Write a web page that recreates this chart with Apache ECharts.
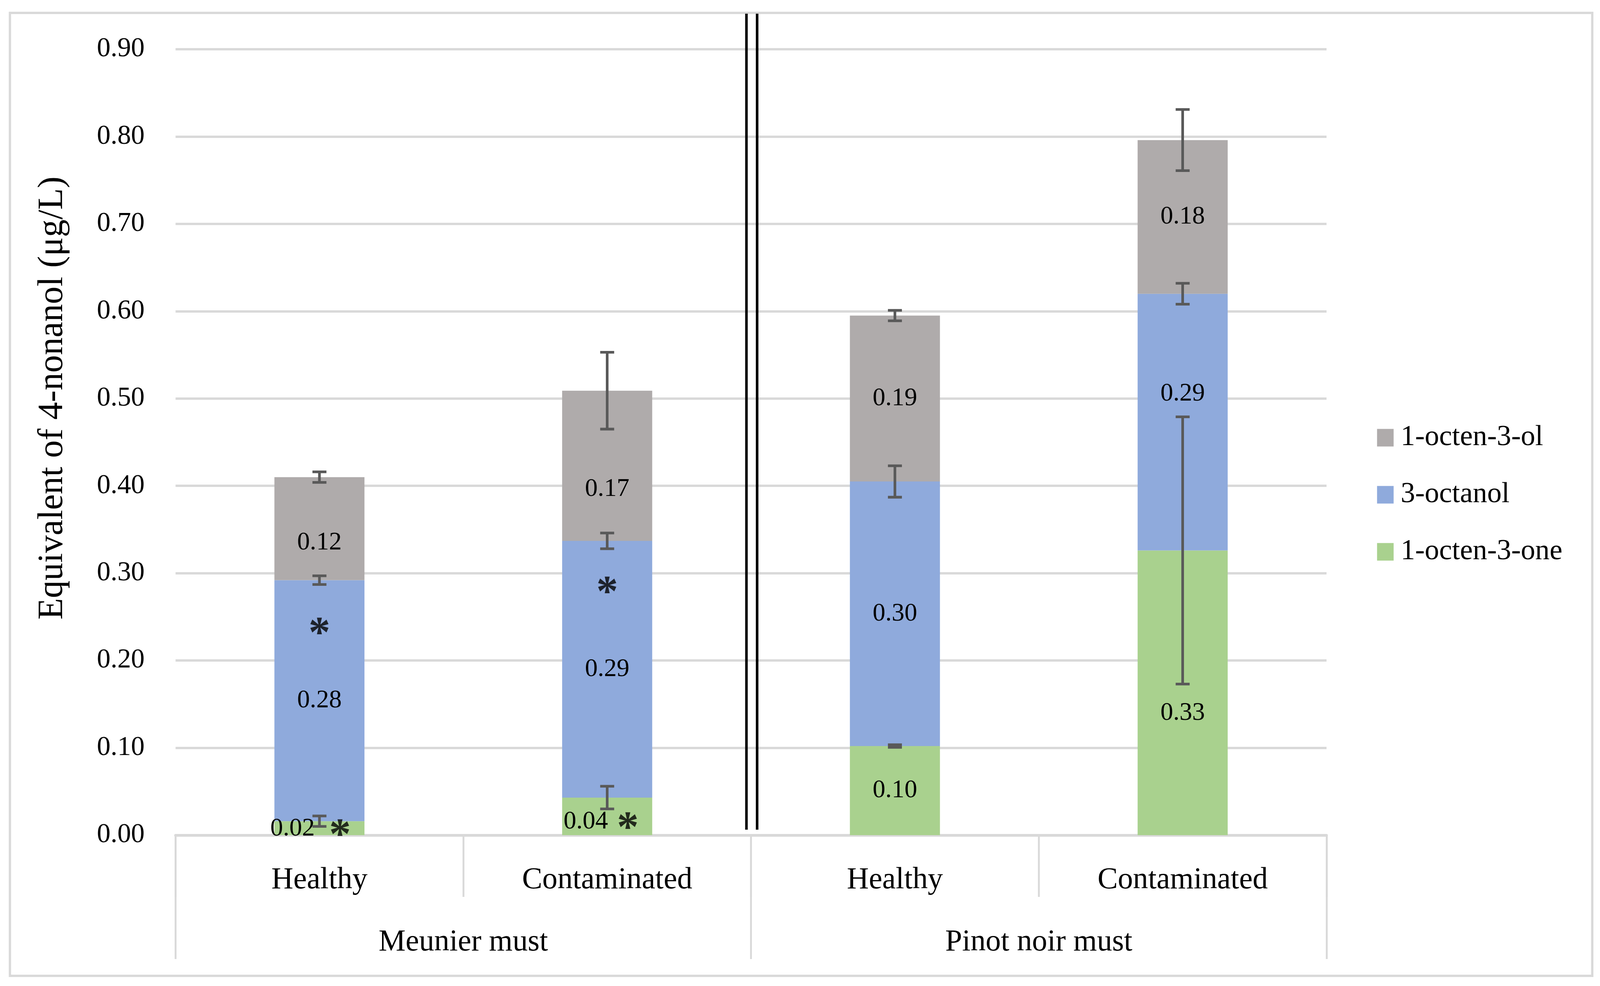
<!DOCTYPE html>
<html>
<head>
<meta charset="utf-8">
<script src="https://cdn.jsdelivr.net/npm/echarts@6/dist/echarts.min.js"></script>
<style>
html,body{margin:0;padding:0;background:#fff;overflow:hidden;}
#chart{width:100vw;height:100vh;}
</style>
</head>
<body>
<div id="chart"></div>
<script>
// ---- data ----
const categories = ['Healthy', 'Contaminated', 'Healthy', 'Contaminated'];
const groups = ['Meunier must', 'Pinot noir must'];
const seriesNames = ['1-octen-3-one', '3-octanol', '1-octen-3-ol'];
const octenone = [0.016, 0.043, 0.102, 0.326];
const octanol = [0.276, 0.294, 0.303, 0.294];
const octenol = [0.118, 0.172, 0.190, 0.176];
const octenoneErr = [0.006, 0.013, 0.0015, 0.153];
const octanolErr = [0.005, 0.009, 0.018, 0.012];
const octenolErr = [0.006, 0.044, 0.006, 0.035];
const yMin = 0, yMax = 0.9, yStep = 0.1;
const asterisks = [[0, 0.238], [1, 0.285], [0, 0.007], [1, 0.015]];

// ---- layout (reference is 4347 x 2523; scaled to the actual viewport) ----
const REF_W = 4347, REF_H = 2523;
const W = window.innerWidth || REF_W, H = window.innerHeight || REF_H;
const sx = W / REF_W, sy = H / REF_H, fs = (sx + sy) / 2;
const X = v => v * sx, Y = v => v * sy, F = v => v * fs;

// ---- styles ----
const colors = { '1-octen-3-one': '#A9D18E', '3-octanol': '#8FAADC', '1-octen-3-ol': '#AFABAB' };
const FONT = '"Palatino Linotype","Book Antiqua",Palatino,"Liberation Serif",serif';
const labelOffsets = {
  '1-octen-3-one': [[-73, 2], [-58, 14], [0, 0], [0, 52]],
  '3-octanol': [[0, 0], [0, 0], [0, 0], [0, -72]],
  '1-octen-3-ol': [[0, 36], [0, 60], [0, 0], [0, 0]]
};
const asteriskDx = [0, 0, 56, 56];

const values = { '1-octen-3-one': octenone, '3-octanol': octanol, '1-octen-3-ol': octenol };
const errors = { '1-octen-3-one': octenoneErr, '3-octanol': octanolErr, '1-octen-3-ol': octenolErr };

const chart = echarts.init(document.getElementById('chart'), null, { renderer: 'canvas', width: W, height: H });

const series = [];
const cum = categories.map(() => 0);
const errData = [];
seriesNames.forEach(name => {
  const vals = values[name];
  series.push({
    name: name,
    type: 'bar',
    stack: 'total',
    barWidth: '31.3%',
    itemStyle: { color: colors[name] },
    label: {
      show: true,
      position: 'inside',
      fontFamily: FONT,
      fontSize: F(67),
      color: '#000',
      formatter: p => (Math.round(p.value * 100) / 100).toFixed(2)
    },
    emphasis: { disabled: true },
    data: vals.map((v, i) => ({ value: v, label: { offset: [X(labelOffsets[name][i][0]), Y(labelOffsets[name][i][1])] } }))
  });
  vals.forEach((v, i) => {
    cum[i] += v;
    errData.push([i, cum[i], errors[name][i]]);
  });
});

series.push({
  type: 'custom',
  name: 'errorbars',
  z: 5,
  silent: true,
  renderItem: function (params, api) {
    const x = api.value(0), y = api.value(1), e = api.value(2);
    const top = api.coord([x, y + e]);
    const bot = api.coord([x, y - e]);
    const hw = X(19);
    const style = { stroke: '#595959', lineWidth: F(7) };
    return {
      type: 'group',
      children: [
        { type: 'line', shape: { x1: top[0], y1: top[1], x2: bot[0], y2: bot[1] }, style: style },
        { type: 'line', shape: { x1: top[0] - hw, y1: top[1], x2: top[0] + hw, y2: top[1] }, style: style },
        { type: 'line', shape: { x1: bot[0] - hw, y1: bot[1], x2: bot[0] + hw, y2: bot[1] }, style: style }
      ]
    };
  },
  encode: { x: 0, y: 1 },
  data: errData
});

series.push({
  type: 'scatter',
  name: 'significance',
  z: 6,
  silent: true,
  symbolSize: 1,
  itemStyle: { color: 'rgba(0,0,0,0)' },
  label: {
    show: true,
    position: 'inside',
    formatter: '*',
    fontFamily: FONT,
    fontSize: F(115),
    fontWeight: 'bold',
    color: '#000'
  },
  data: asterisks.map((a, i) => ({ value: a, label: { offset: [X(asteriskDx[i]), Y(21)] } }))
});

const option = {
  backgroundColor: '#fff',
  animation: false,
  textStyle: { fontFamily: FONT },
  grid: { left: X(477), right: X(743), top: Y(126), bottom: Y(386), containLabel: false },
  legend: {
    orient: 'vertical',
    left: X(3736),
    top: Y(1078),
    data: ['1-octen-3-ol', '3-octanol', '1-octen-3-one'],
    icon: 'rect',
    itemWidth: X(45),
    itemHeight: Y(45),
    itemGap: Y(72),
    textStyle: { fontFamily: FONT, fontSize: F(76), color: '#000', padding: [0, 0, 0, X(14)] },
    selectedMode: false
  },
  xAxis: [
    {
      type: 'category',
      data: categories,
      boundaryGap: true,
      axisLine: { show: true, lineStyle: { color: '#D9D9D9', width: Y(7) } },
      axisTick: { show: true, interval: 0, length: Y(158), lineStyle: { color: '#D9D9D9', width: X(5) } },
      axisLabel: { interval: 0, margin: Y(77), fontFamily: FONT, fontSize: F(80), color: '#000' },
      splitLine: { show: false }
    },
    {
      type: 'category',
      data: groups,
      position: 'bottom',
      boundaryGap: true,
      axisLine: { show: false },
      axisTick: { show: true, interval: 0, length: Y(317), lineStyle: { color: '#D9D9D9', width: X(5) } },
      axisLabel: { interval: 0, margin: Y(236), fontFamily: FONT, fontSize: F(80), color: '#000' },
      splitLine: { show: false }
    }
  ],
  yAxis: {
    type: 'value',
    min: yMin,
    max: yMax,
    interval: yStep,
    name: 'Equivalent of 4-nonanol (μg/L)',
    nameLocation: 'middle',
    nameGap: X(286),
    nameTextStyle: { fontFamily: FONT, fontSize: F(93), color: '#000', padding: [0, 0, 0, Y(226)] },
    axisLine: { show: false },
    axisTick: { show: false },
    axisLabel: { margin: X(84), fontFamily: FONT, fontSize: F(72), color: '#000', formatter: v => v.toFixed(2) },
    splitLine: { lineStyle: { color: '#D9D9D9', width: Y(6) } }
  },
  series: series
};

chart.setOption(option);

// decorations: chart border and double separator line between the two musts
const xa = chart.convertToPixel({ xAxisIndex: 0 }, 1);
const xb = chart.convertToPixel({ xAxisIndex: 0 }, 2);
const xMid = (xa + xb) / 2 + X(2);
const yBottom = chart.convertToPixel({ yAxisIndex: 0 }, yMin) - Y(14);
chart.setOption({
  graphic: [
    { type: 'rect', shape: { x: X(27), y: Y(33), width: X(4299), height: Y(2464) }, style: { fill: 'none', stroke: '#D9D9D9', lineWidth: F(6) }, silent: true, z: -1 },
    { type: 'line', shape: { x1: xMid - X(14.5), y1: Y(35), x2: xMid - X(14.5), y2: yBottom }, style: { stroke: '#000', lineWidth: X(7) }, silent: true, z: 10 },
    { type: 'line', shape: { x1: xMid + X(14.5), y1: Y(35), x2: xMid + X(14.5), y2: yBottom }, style: { stroke: '#000', lineWidth: X(7) }, silent: true, z: 10 }
  ]
});
</script>
</body>
</html>
